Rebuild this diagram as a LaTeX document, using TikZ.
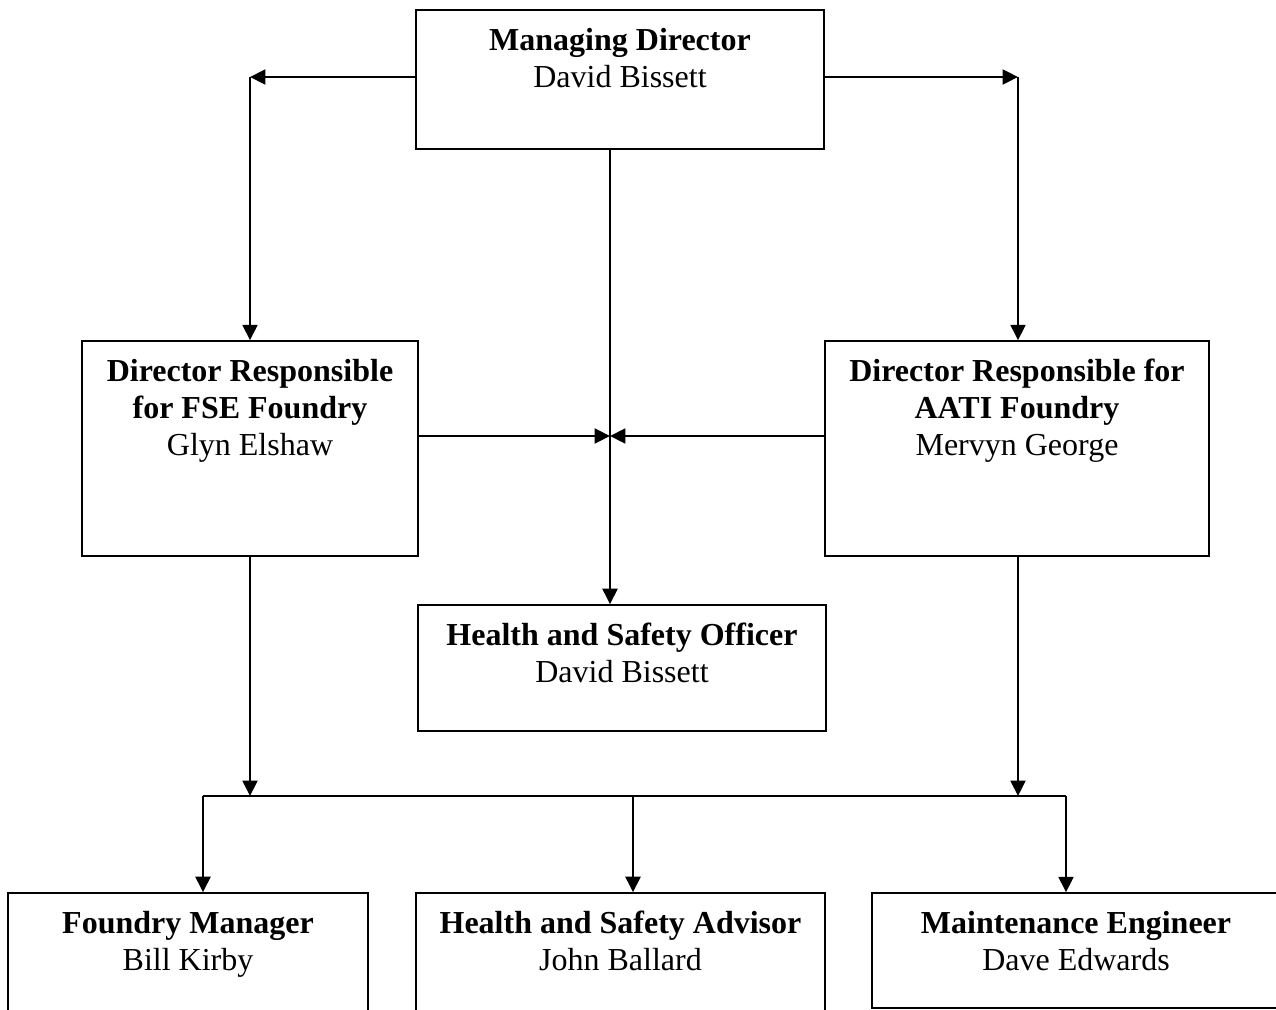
\documentclass[tikz,border=0pt]{standalone}
\usepackage{fontspec}
\setmainfont{Liberation Serif}
\usetikzlibrary{arrows.meta}

\begin{document}
\begin{tikzpicture}[x=0.375pt, y=-0.375pt,
    every node/.style={font=\fontsize{12}{13.8}\selectfont},
    post/.style={draw, line width=0.6pt, inner sep=0pt},
    txt/.style={anchor=north, align=center, inner sep=0pt, yshift=-7pt},
    arr/.style={line width=0.9pt, -{Triangle[length=5.8pt, width=5.6pt]}},
    ln/.style={line width=0.9pt}]

            \clip (0,0) rectangle (1276,1009);

            % Boxes
            \node[post, minimum width=153pt, minimum height=52.1pt] at (620,79.5) (md) {};
            \node[post, minimum width=126pt, minimum height=80.6pt] at (250,448.5) (fse) {};
            \node[post, minimum width=144pt, minimum height=80.6pt] at (1017,448.5) (aati) {};
            \node[post, minimum width=153pt, minimum height=47.25pt] at (622,668) (hso) {};
            \node[post, minimum width=135pt, minimum height=48pt] at (188,957) (fm) {};
            \node[post, minimum width=153.4pt, minimum height=48pt] at (620.5,957) (hsa) {};
            \node[post, minimum width=153pt, minimum height=43.1pt] at (1076,950.5) (me) {};

            % Corners
            \coordinate (cL) at (250,77);
            \coordinate (cR) at (1018,77);
            \coordinate (cM) at (610,436);
            \coordinate (bL) at (250,796);
            \coordinate (bR) at (1018,796);
            \coordinate (busL) at (203,796);
            \coordinate (busM) at (633,796);
            \coordinate (busR) at (1066,796);

            % Lines
            \draw[arr] (md.west |- cL) -- (cL);
            \draw[arr] (cL) -- (cL |- fse.north);
            \draw[arr] (md.east |- cR) -- (cR);
            \draw[arr] (cR) -- (cR |- aati.north);

            \draw[arr] (cM |- md.south) -- (cM |- hso.north);
            \draw[arr] (fse.east |- cM) -- (cM);
            \draw[arr] (aati.west |- cM) -- (cM);

            \draw[arr] (fse.south -| bL) -- (bL);
            \draw[arr] (aati.south -| bR) -- (bR);
            \draw[ln] (busL) -- (busR);
            \draw[arr] (busL) -- (busL |- fm.north);
            \draw[arr] (busM) -- (busM |- hsa.north);
            \draw[arr] (busR) -- (busR |- me.north);

            % Labels
            \node[txt] at (md.north) {\textbf{Managing Director}\\David Bissett};
            \node[txt] at (fse.north) {\textbf{Director Responsible}\\\textbf{for FSE Foundry}\\Glyn Elshaw};
            \node[txt] at (aati.north) {\textbf{Director Responsible for}\\\textbf{AATI Foundry}\\Mervyn George};
            \node[txt] at (hso.north) {\textbf{Health and Safety Officer}\\David Bissett};
            \node[txt] at (fm.north) {\textbf{Foundry Manager}\\Bill Kirby};
            \node[txt] at (hsa.north) {\textbf{Health and Safety Advisor}\\John Ballard};
            \node[txt] at (me.north) {\textbf{Maintenance Engineer}\\Dave Edwards};

\end{tikzpicture}
\end{document}
